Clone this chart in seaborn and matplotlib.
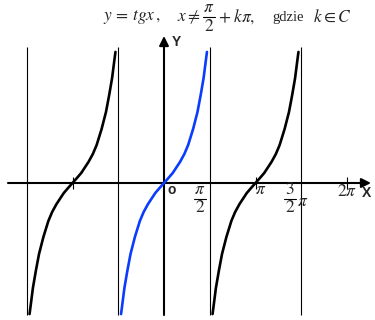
import numpy as np
import pandas as pd
import matplotlib
matplotlib.use('Agg')
import matplotlib.pyplot as plt
import seaborn as sns

sns.set_theme(style='white')
plt.rcParams['font.family'] = ['Liberation Sans', 'DejaVu Sans']
plt.rcParams['mathtext.fontset'] = 'stix'

PI = np.pi
# branches of y = tg x, centred at k*pi
branch_names = ['left', 'middle', 'right']
branch_shift = [-1, 0, 1]          # in units of pi
branch_colors = ['#000000', '#0a3cff', '#000000']
# one half of a branch (x offset in rad, y value)
u_half = [0.0, 0.15, 0.30, 0.55, 0.70, 0.83, 1.00, 1.15, 1.26, 1.36, 1.43, 1.475]
v_half = [0.0, 0.29, 0.59, 1.24, 1.71, 2.24, 3.18, 4.18, 5.18, 6.18, 7.12, 7.71]
asymptotes = [-1.5, -0.5, 0.5, 1.5]  # in units of pi
tick_marks = [-1, 1, 2]              # in units of pi

rows = []
for name, s in zip(branch_names, branch_shift):
    us = [-u for u in reversed(u_half[1:])] + u_half
    vs = [-v for v in reversed(v_half[1:])] + v_half
    for i, (u, v) in enumerate(zip(us, vs)):
        rows.append({'branch': name, 'order': i, 'x': s * PI + u, 'y': v})
df = pd.DataFrame(rows)

fig = plt.figure(figsize=(3.75, 3.2), dpi=100)
ax = fig.add_axes([0, 0, 1, 1])
XS = 91.5 / PI   # px per rad
YS = 17.0        # px per unit
X0, Y0 = 164, 183
def px2d(px, py):
    return (px - X0) / XS, (Y0 - py) / YS
ax.set_xlim(px2d(0, 0)[0], px2d(375, 0)[0])
ax.set_ylim(px2d(0, 320)[1], px2d(0, 0)[1])
ax.axis('off')

# asymptotes
ax.vlines([a * PI for a in asymptotes], px2d(0, 315)[1], px2d(0, 47)[1],
          color='black', lw=0.8, zorder=1)

# axes with arrows
xa0 = px2d(8, 183); xa1 = px2d(371, 183)
ax.annotate('', xy=xa1, xytext=xa0,
            arrowprops=dict(arrowstyle='-|>', lw=1.5, color='black',
                            mutation_scale=14, shrinkA=0, shrinkB=0), zorder=3)
ya0 = px2d(164, 315); ya1 = px2d(164, 36)
ax.annotate('', xy=ya1, xytext=ya0,
            arrowprops=dict(arrowstyle='-|>', lw=1.5, color='black',
                            mutation_scale=14, shrinkA=0, shrinkB=0), zorder=3)

# tick marks
ax.vlines([t * PI for t in tick_marks], -0.33, 0.33, color='black', lw=0.8, zorder=3)

sns.lineplot(data=df, x='x', y='y', hue='branch', units='branch', estimator=None,
             sort=False, palette=dict(zip(branch_names, branch_colors)),
             legend=False, lw=1.9, ax=ax, zorder=4)
ax.set_xlabel(''); ax.set_ylabel('')

def txt(px, py, s, **kw):
    kw.setdefault('fontsize', 12.5)
    kw.setdefault('ha', 'center')
    kw.setdefault('va', 'center')
    ax.text(*px2d(px, py), s, **kw)

def frac(px, num, den, y_num, y_bar, y_den, half=6):
    txt(px, y_num, num)
    txt(px, y_den, den)
    a = px2d(px - half, y_bar); b = px2d(px + half, y_bar)
    ax.plot([a[0], b[0]], [a[1], b[1]], color='black', lw=0.8)

# axis labels
txt(172, 190, 'o', fontsize=10, fontweight='bold')
txt(176, 42, 'Y', fontsize=10, fontweight='bold')
txt(366, 193, 'X', fontsize=10, fontweight='bold')

# tick labels
frac(200, r'$\pi$', r'$2$', 189.5, 199, 206.5)
txt(261, 189.5, r'$\pi$')
frac(290, r'$3$', r'$2$', 189.5, 199, 206.5)
txt(303, 201.5, r'$\pi$')
txt(347, 190.5, r'$2\pi$')

# title
txt(103, 17, r'$y\, =\, tgx\,,$', ha='left')
txt(177, 17, r'$x \neq$', ha='left')
frac(209, r'$\pi$', r'$2$', 8, 17, 26)
txt(218, 17, r'$+\;k\pi,$', ha='left')
txt(272, 17, 'gdzie', ha='left', family='Liberation Serif', fontsize=10.5)
txt(313, 17, r'$k \in C$', ha='left')

fig.savefig('out.png', dpi=100)
